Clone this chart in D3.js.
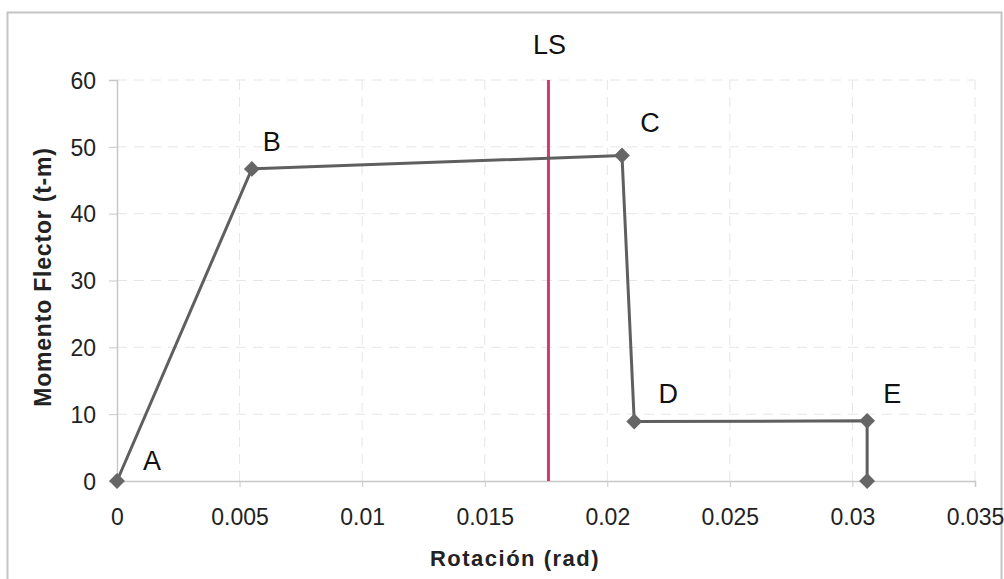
<!DOCTYPE html>
<html><head><meta charset="utf-8">
<script src="https://cdn.jsdelivr.net/npm/d3@7"></script>
<style>body{margin:0;background:#fff}svg{display:block;font-family:"Liberation Sans",Arial,sans-serif}</style>
</head><body><svg id="c" width="1004" height="579"></svg>
<script>
const rotation = [0, 0.0055, 0.0206, 0.0211, 0.0306, 0.0306];
const moment = [0, 46.7, 48.7, 8.9, 9, 0];
const pointLabels = ["A", "B", "C", "D", "E", ""];
const lsRotation = 0.0176;
const xTicks = [0, 0.005, 0.01, 0.015, 0.02, 0.025, 0.03, 0.035];
const yTicks = [0, 10, 20, 30, 40, 50, 60];

const svg = d3.select("#c");
const x = d3.scaleLinear().domain([0, 0.035]).range([117, 975]);
const y = d3.scaleLinear().domain([0, 60]).range([481, 80]);

svg.append("rect").attr("x", 7.5).attr("y", 12.5).attr("width", 994).attr("height", 580)
  .attr("fill", "none").attr("stroke", "#c4c4c4").attr("stroke-width", 2);

// grid
svg.append("g").selectAll("line").data(yTicks.slice(1)).join("line")
  .attr("x1", x(0)).attr("x2", x(0.035)).attr("y1", d => y(d)).attr("y2", d => y(d))
  .attr("stroke", "#e6e6e6").attr("stroke-dasharray", "10,7");
svg.append("g").selectAll("line").data(xTicks.slice(1)).join("line")
  .attr("x1", d => x(d)).attr("x2", d => x(d)).attr("y1", y(0)).attr("y2", y(60))
  .attr("stroke", "#e6e6e6").attr("stroke-dasharray", "10,7");

// axes
const xAxis = svg.append("g").attr("transform", `translate(0,${y(0)})`)
  .call(d3.axisBottom(x).tickValues(xTicks).tickFormat(d => d3.format("")(+d.toFixed(3))).tickSize(6).tickPadding(22));
const yAxis = svg.append("g").attr("transform", `translate(${x(0)},0)`)
  .call(d3.axisLeft(y).tickValues(yTicks).tickSize(8).tickPadding(13));
[xAxis, yAxis].forEach(g => {
  g.select(".domain").attr("stroke", "#c8c8c8").attr("stroke-width", 1.5);
  g.selectAll(".tick line").attr("stroke", "#c8c8c8");
  g.selectAll("text").attr("fill", "#222").style("font-size", "23px").style("font-family", "'Liberation Sans',Arial,sans-serif");
});
yAxis.selectAll("text").attr("dy", "0.36em");
xAxis.selectAll("text").attr("dy", "0.68em");

// LS line
svg.append("line").attr("x1", x(lsRotation)).attr("x2", x(lsRotation)).attr("y1", y(60)).attr("y2", y(0))
  .attr("stroke", "#d6386a").attr("stroke-width", 3);
svg.append("text").attr("x", x(lsRotation) + 1).attr("y", 54).attr("text-anchor", "middle")
  .style("font-size", "27px").attr("fill", "#111").text("LS");

// series
const pts = rotation.map((r, i) => ({r, m: moment[i], l: pointLabels[i]}));
svg.append("path").datum(pts)
  .attr("d", d3.line().x(d => x(d.r)).y(d => y(d.m)))
  .attr("fill", "none").attr("stroke", "#5f5f5f").attr("stroke-width", 3);
svg.append("g").selectAll("path").data(pts).join("path")
  .attr("transform", d => `translate(${x(d.r)},${y(d.m)})`)
  .attr("d", d3.symbol(d3.symbolDiamond2, 160))
  .attr("fill", "#666");

const labelOffsets = [[35, -21], [20, -28], [28, -34], [34, -29], [25, -28], [0, 0]];
svg.append("g").selectAll("text").data(pts).join("text")
  .attr("x", (d, i) => x(d.r) + labelOffsets[i][0])
  .attr("y", (d, i) => y(d.m) + labelOffsets[i][1] + 10)
  .attr("text-anchor", "middle").style("font-size", "27px").attr("fill", "#111")
  .text(d => d.l);

// axis titles
svg.append("text").attr("x", 515).attr("y", 566).attr("text-anchor", "middle")
  .style("font-size", "22px").style("font-weight", "bold").style("letter-spacing", "1.5px").attr("fill", "#222")
  .text("Rotación (rad)");
svg.append("text").attr("transform", "translate(51,277) rotate(-90)").attr("text-anchor", "middle")
  .style("font-size", "23px").style("font-weight", "bold").style("letter-spacing", "0.8px").attr("fill", "#222")
  .text("Momento Flector (t-m)");
</script></body></html>
